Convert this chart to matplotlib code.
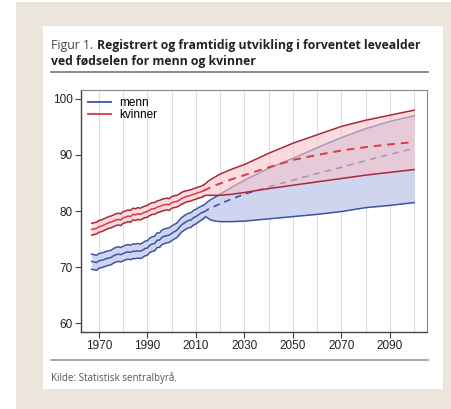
import matplotlib
matplotlib.use("Agg")
import matplotlib.pyplot as plt
from matplotlib.patches import Rectangle
from matplotlib.lines import Line2D

W, H = 452, 409

# historical, 1967-2013
hist_years = list(range(1967, 2014))
men_mid = [71.0, 70.9, 70.8, 71.1, 71.2, 71.3, 71.5, 71.6, 71.7, 72.0, 72.2, 72.3, 72.2, 72.4,
           72.6, 72.7, 72.6, 72.8, 72.8, 72.9, 72.8, 73.0, 73.3, 73.4, 73.9, 74.1, 74.2, 74.8,
           74.8, 75.3, 75.5, 75.6, 75.7, 76.0, 76.3, 76.5, 77.0, 77.5, 77.8, 78.1, 78.3, 78.4,
           78.8, 79.0, 79.3, 79.6, 79.8]
men_hi = [72.3, 72.2, 72.1, 72.4, 72.5, 72.6, 72.8, 72.9, 73.0, 73.3, 73.5, 73.6, 73.5, 73.7,
          73.9, 74.0, 73.9, 74.1, 74.1, 74.2, 74.1, 74.3, 74.6, 74.7, 75.2, 75.4, 75.5, 76.1,
          76.1, 76.6, 76.8, 76.9, 77.0, 77.3, 77.6, 77.8, 78.3, 78.8, 79.1, 79.4, 79.6, 79.7,
          80.1, 80.3, 80.6, 80.8, 81.0]
men_lo = [69.6, 69.5, 69.4, 69.8, 69.9, 70.0, 70.2, 70.3, 70.4, 70.7, 70.9, 71.0, 70.9, 71.1,
          71.3, 71.4, 71.3, 71.5, 71.5, 71.6, 71.5, 71.7, 72.0, 72.1, 72.6, 72.8, 72.9, 73.5,
          73.5, 74.0, 74.2, 74.3, 74.4, 74.7, 75.0, 75.2, 75.7, 76.2, 76.5, 76.8, 77.0, 77.1,
          77.5, 77.7, 78.0, 78.3, 78.6]
women_mid = [76.7, 76.8, 76.9, 77.2, 77.3, 77.5, 77.7, 77.9, 78.0, 78.2, 78.4, 78.5, 78.4, 78.8,
             78.9, 79.1, 79.0, 79.4, 79.3, 79.5, 79.4, 79.6, 79.8, 79.9, 80.2, 80.4, 80.4, 80.7,
             80.8, 81.0, 81.1, 81.2, 81.1, 81.5, 81.6, 81.7, 81.9, 82.2, 82.4, 82.6, 82.7, 82.8,
             83.0, 83.1, 83.3, 83.4, 83.6]
women_hi = [77.8, 77.9, 78.0, 78.3, 78.4, 78.6, 78.8, 79.0, 79.1, 79.3, 79.5, 79.6, 79.5, 79.9,
            80.0, 80.2, 80.1, 80.5, 80.4, 80.6, 80.5, 80.7, 80.9, 81.0, 81.3, 81.5, 81.5, 81.8,
            81.9, 82.1, 82.2, 82.3, 82.2, 82.6, 82.7, 82.8, 83.0, 83.3, 83.5, 83.6, 83.7, 83.8,
            84.0, 84.1, 84.3, 84.4, 84.6]
women_lo = [75.7, 75.8, 75.9, 76.2, 76.3, 76.5, 76.7, 76.9, 77.0, 77.2, 77.4, 77.5, 77.4, 77.8,
            77.9, 78.1, 78.0, 78.4, 78.3, 78.5, 78.4, 78.6, 78.8, 78.9, 79.2, 79.4, 79.4, 79.7,
            79.8, 80.0, 80.1, 80.2, 80.1, 80.5, 80.6, 80.7, 80.9, 81.2, 81.4, 81.6, 81.7, 81.8,
            82.0, 82.1, 82.3, 82.4, 82.6]

# projections, 2013-2100
proj_years = [2013, 2014, 2015, 2016, 2018, 2020, 2025, 2030, 2040, 2050, 2060, 2070, 2080, 2090, 2100]
men_p_mid = [79.8, 80.0, 80.3, 80.5, 80.9, 81.3, 82.2, 83.0, 84.3, 85.5, 86.7, 87.8, 89.0, 90.1, 91.2]
men_p_hi = [81.0, 81.3, 81.7, 82.0, 82.5, 83.0, 84.3, 85.5, 87.6, 89.4, 91.3, 93.1, 94.7, 96.0, 97.0]
men_p_lo = [78.6, 79.0, 78.7, 78.4, 78.2, 78.1, 78.1, 78.2, 78.6, 79.0, 79.4, 79.9, 80.6, 81.0, 81.5]
women_p_mid = [83.6, 83.8, 84.0, 84.2, 84.6, 84.9, 85.7, 86.4, 87.8, 89.1, 90.0, 90.8, 91.4, 91.9, 92.3]
women_p_hi = [84.6, 84.9, 85.3, 85.6, 86.1, 86.6, 87.5, 88.3, 90.3, 92.1, 93.6, 95.1, 96.2, 97.1, 98.0]
women_p_lo = [82.6, 82.8, 82.8, 82.8, 82.8, 82.8, 83.0, 83.3, 84.0, 84.6, 85.2, 85.8, 86.4, 86.9, 87.4]

xticks = [1970, 1990, 2010, 2030, 2050, 2070, 2090]
yticks = [60, 70, 80, 90, 100]

beige = "#ece5dc"
blue = "#3d55a5"
blue_fill = "#cfd5ef"
red = "#d83c44"
red_dark = "#a8283a"
red_fill = "#f7c4ca"

fig = plt.figure(figsize=(W / 100, H / 100), dpi=100, facecolor="white")
fig.patches.append(Rectangle((16 / W, 0), 1, 1 - 2 / H, transform=fig.transFigure,
                             facecolor=beige, edgecolor="none", zorder=-2))
fig.patches.append(Rectangle((43 / W, 1 - 389 / H), 400 / W, 363 / H, transform=fig.transFigure,
                             facecolor="white", edgecolor="none", zorder=-1))

fig.text(51 / W, 1 - 45 / H, "Figur 1.", fontsize=8.8, color="#444444", family="Open Sans",
         va="center", ha="left")
fig.text(97 / W, 1 - 45 / H, "Registrert og framtidig utvikling i forventet levealder",
         fontsize=8.8, fontweight="bold", color="#222222", family="Open Sans", va="center", ha="left")
fig.text(51 / W, 1 - 61 / H, "ved fødselen for menn og kvinner",
         fontsize=8.8, fontweight="bold", color="#222222", family="Open Sans", va="center", ha="left")
fig.add_artist(Line2D([51 / W, 428 / W], [1 - 72 / H, 1 - 72 / H], color="#777777", lw=1.2))
fig.add_artist(Line2D([51 / W, 428 / W], [1 - 360 / H, 1 - 360 / H], color="#999999", lw=1.2))
fig.text(51 / W, 1 - 378 / H, "Kilde: Statistisk sentralbyrå.", fontsize=7, color="#555555",
         family="Open Sans", va="center", ha="left")

ax = fig.add_axes([81 / W, 1 - 332 / H, 346 / W, 242 / H])
ax.set_facecolor("white")
ax.set_xlim(1962.6, 2105.3)
ax.set_ylim(58.4, 101.6)
for gx in range(1970, 2101, 10):
    ax.axvline(gx, color="#dcdcdc", lw=0.8, zorder=0)

# men
ax.fill_between(hist_years, men_lo, men_hi, color=blue_fill, lw=0, zorder=1)
ax.fill_between(proj_years, men_p_lo, men_p_hi, color=blue_fill, lw=0, zorder=1)
for ys in (men_hi, men_mid, men_lo):
    ax.plot(hist_years, ys, color=blue, lw=1.1, zorder=2)
ax.plot(proj_years, men_p_hi, color=blue, lw=1.1, zorder=2)
ax.plot(proj_years, men_p_lo, color=blue, lw=1.1, zorder=2)
ax.plot(proj_years, men_p_mid, color=blue, lw=1.2, ls=(0, (4, 3)), zorder=2)

# women, drawn over men with translucent fill
ax.fill_between(hist_years, women_lo, women_hi, color=red_fill, alpha=0.6, lw=0, zorder=3)
ax.fill_between(proj_years, women_p_lo, women_p_hi, color=red_fill, alpha=0.6, lw=0, zorder=3)
ax.plot(hist_years, women_hi, color=red_dark, lw=1.1, zorder=4)
ax.plot(hist_years, women_mid, color=red, lw=1.1, zorder=4)
ax.plot(hist_years, women_lo, color=red_dark, lw=1.1, zorder=4)
ax.plot(proj_years, women_p_hi, color=red_dark, lw=1.1, zorder=4)
ax.plot(proj_years, women_p_lo, color=red_dark, lw=1.1, zorder=4)
ax.plot(proj_years, women_p_mid, color=red, lw=1.4, ls=(0, (4, 3)), zorder=4)

ax.set_xticks(xticks)
ax.set_yticks(yticks)
ax.set_xticklabels([str(x) for x in xticks], family="Liberation Sans", fontsize=8.5, color="#222222")
ax.set_yticklabels([str(y) for y in yticks], family="Liberation Sans", fontsize=8.5, color="#222222")
ax.tick_params(length=4, width=0.8, color="#444444", pad=2)
for side in ("left", "bottom"):
    ax.spines[side].set_color("#444444")
    ax.spines[side].set_linewidth(1.0)
for side in ("top", "right"):
    ax.spines[side].set_color("#888888")
    ax.spines[side].set_linewidth(0.8)

handles = [Line2D([], [], color=blue, lw=1.3), Line2D([], [], color=red, lw=1.3)]
leg = ax.legend(handles, ["menn", "kvinner"], loc="upper left", frameon=False,
                prop={"family": "Liberation Sans", "size": 8.5}, handlelength=1.9,
                handletextpad=0.7, labelspacing=0.0, borderaxespad=0.2,
                bbox_to_anchor=(0.0, 1.0))

fig.savefig("out.png", dpi=100, facecolor=fig.get_facecolor())
